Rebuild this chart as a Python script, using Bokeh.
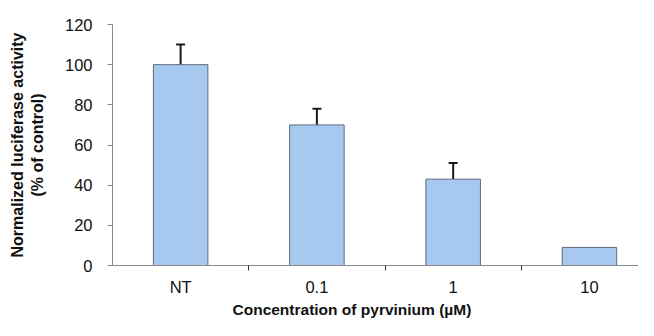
from bokeh.plotting import figure
from bokeh.models import (Range1d, FixedTicker, ColumnDataSource, Whisker, TeeHead, Title)
from bokeh.embed import file_html
from bokeh.resources import INLINE

categories = ["NT", "0.1", "1", "10"]
values = [100, 70, 43, 9]
errors = [10, 8, 8, 0]
y_ticks = [0, 20, 40, 60, 80, 100, 120]

xs = [i + 0.5 for i in range(len(categories))]
src = ColumnDataSource(dict(x=xs, val=values, err=errors))
wx = [x for x, e in zip(xs, errors) if e > 0]
wv = [v for v, e in zip(values, errors) if e > 0]
wu = [v + e for v, e in zip(values, errors) if e > 0]
wsrc = ColumnDataSource(dict(x=wx, lower=wv, upper=wu))

FONT = "Liberation Sans"

p = figure(width=638, height=320, output_backend="svg", toolbar_location=None,
           x_range=Range1d(0, 3.86), y_range=Range1d(0, 120),
           min_border_left=112, min_border_right=0, min_border_top=24,
           min_border_bottom=55)
p.outline_line_color = None
p.grid.visible = False
p.background_fill_color = "white"

p.vbar(x="x", top="val", width=0.4, source=src, fill_color="#A7C9EF",
       line_color="#5E6B7A", line_width=1)

wh = Whisker(base="x", lower="lower", upper="upper", source=wsrc,
             lower_head=None,
             upper_head=TeeHead(size=9, line_color="#1a1a1a", line_width=2),
             line_color="#1a1a1a", line_width=2)
p.add_layout(wh)

# y axis
ya = p.yaxis[0]
ya.ticker = FixedTicker(ticks=y_ticks, minor_ticks=[])
ya.axis_line_color = "#8a8a8a"
ya.major_tick_line_color = "#8a8a8a"
ya.major_tick_out = 5
ya.major_tick_in = 0
ya.minor_tick_line_color = None
ya.major_label_standoff = 15
ya.major_label_text_font = FONT
ya.major_label_text_font_size = "16.5px"
ya.major_label_text_color = "#111111"
ya.axis_label = "Normalized luciferase activity\n(% of control)"
ya.axis_label_text_font = FONT
ya.axis_label_text_font_style = "bold"
ya.axis_label_text_font_size = "16px"
ya.axis_label_text_color = "#111111"
ya.axis_label_standoff = 16

# x axis
xa = p.xaxis[0]
xa.ticker = FixedTicker(ticks=xs, minor_ticks=[1, 2, 3])
xa.major_label_overrides = {x: c for x, c in zip(xs, categories)}
xa.axis_line_color = "#8a8a8a"
xa.major_tick_line_color = None
xa.major_tick_out = 0
xa.major_tick_in = 0
xa.minor_tick_line_color = "#333333"
xa.minor_tick_out = 5
xa.minor_tick_in = 0
xa.major_label_standoff = 7
xa.major_label_text_font = FONT
xa.major_label_text_font_size = "16.5px"
xa.major_label_text_color = "#111111"

t = Title(text="Concentration of pyrvinium (\u00b5M)", align="left", offset=120,
          text_font=FONT, text_font_style="bold", text_font_size="15.5px",
          text_color="#111111", standoff=0)
p.add_layout(t, "below")

open("out.html", "w").write(file_html(p, INLINE))
